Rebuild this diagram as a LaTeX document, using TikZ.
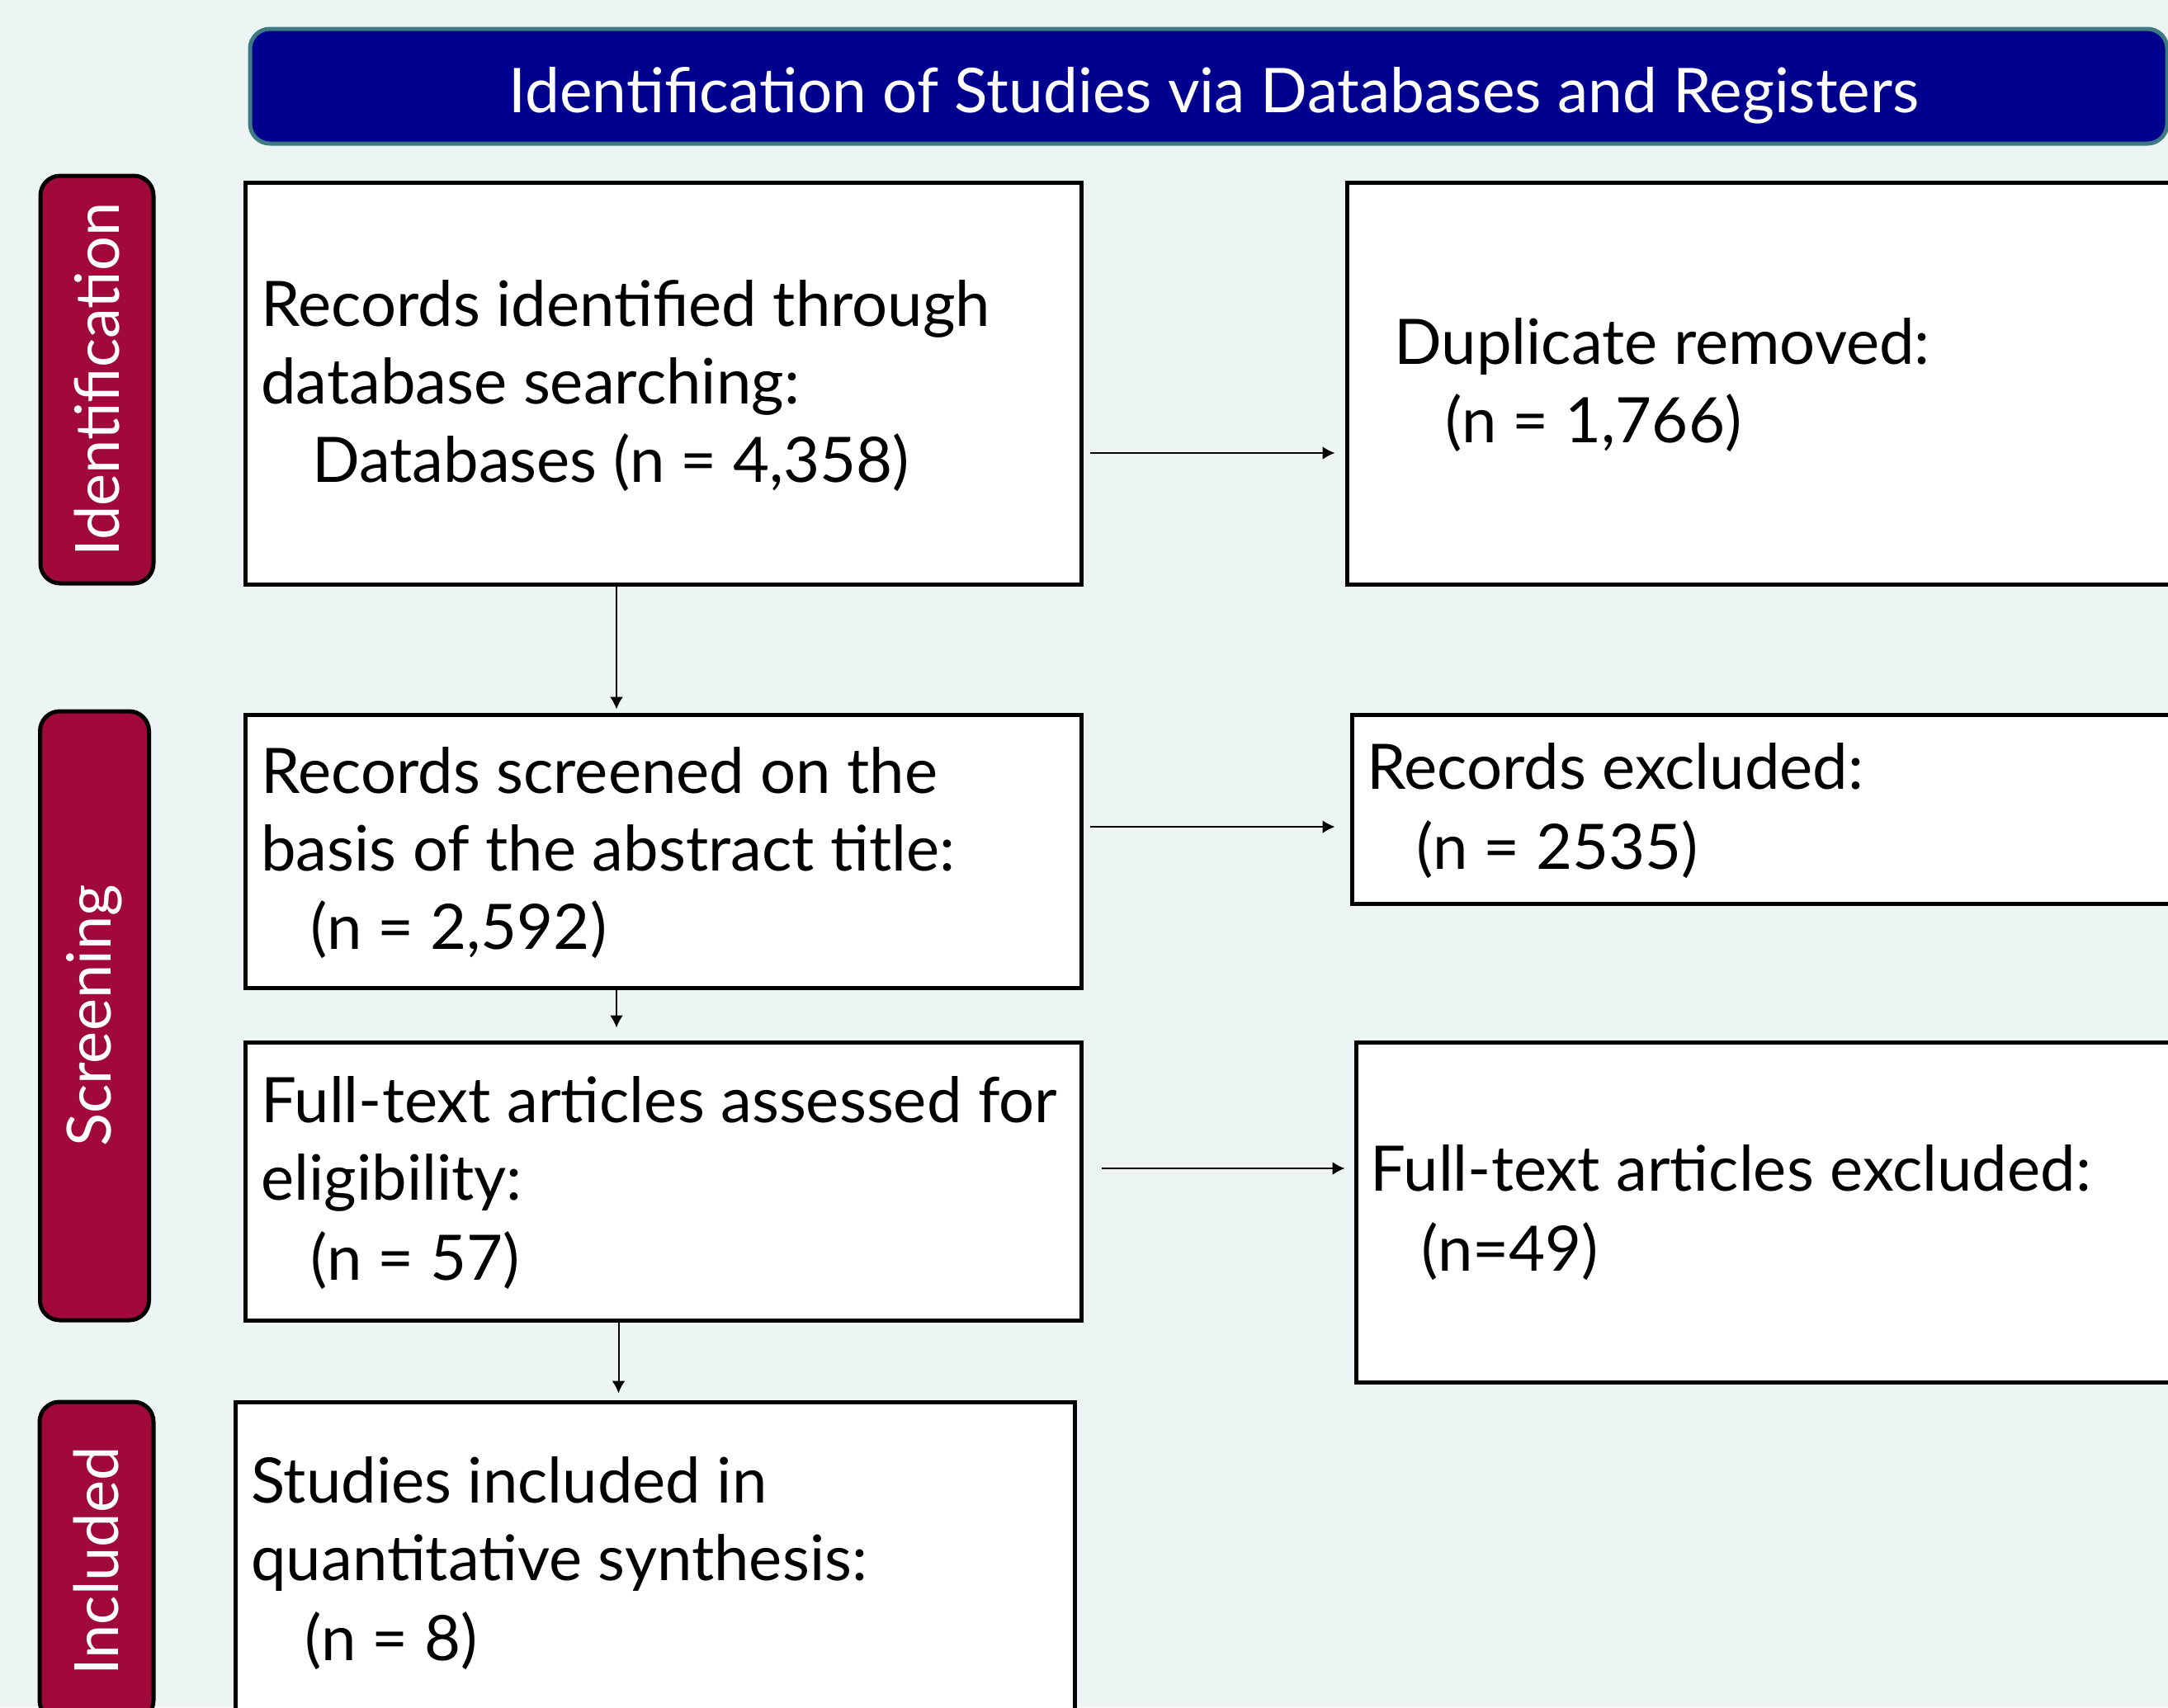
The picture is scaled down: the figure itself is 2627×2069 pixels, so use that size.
\documentclass[tikz,border=0pt]{standalone}
\usepackage{fontspec}
\setmainfont{Lato}
\usetikzlibrary{arrows.meta,calc}
\definecolor{bgc}{HTML}{ECF5F3}
\definecolor{navy}{HTML}{00008E}
\definecolor{tealb}{HTML}{3E7A82}
\definecolor{crim}{HTML}{A0093A}
\begin{document}
\begin{tikzpicture}[x=0.5pt,y=-0.5pt,
  box/.style={draw=black, line width=2.5pt, fill=white, rectangle, inner sep=0pt},
  lab/.style={draw=black, line width=2.5pt, fill=crim, rectangle, rounded corners=12pt, inner sep=0pt},
  labtxt/.style={text=white, rotate=90, inner sep=0pt, font=\fontsize{37}{44}\selectfont},
  txt/.style={font=\fontsize{38}{47.5}\selectfont, inner sep=0pt, anchor=base west, xshift=-2pt},
  arr/.style={-{Latex[length=7.5pt,width=8pt]}, line width=1pt}]
\useasboundingbox (0,0) rectangle (2627,2069);
\clip (0,0) rectangle (2627,2069);
\fill[bgc] (0,0) rectangle (2627,2069);

% header
\node[draw=tealb, line width=2.5pt, fill=navy, rounded corners=12pt, inner sep=0pt,
  minimum width=1161.5pt, minimum height=69.5pt] (head) at (1464.5,104.5) {};
\node[text=white, inner sep=0pt, anchor=base, font=\fontsize{37.4}{45}\selectfont] (headt) at (1471,136)
  {Identification of Studies via Databases and Registers};

% side labels
\node[lab, minimum width=68.5pt, minimum height=247pt] (lab1) at (117.5,460) {};
\node[labtxt] (lab1t) at (lab1.center) {Identification};
\node[lab, minimum width=66pt, minimum height=369pt] (lab2) at (114.5,1231) {};
\node[labtxt] (lab2t) at (lab2.center) {Screening};
\node[lab, minimum width=69pt, minimum height=193pt] (lab3) at (117,1892) {};
\node[labtxt] (lab3t) at (lab3.center) {Included};

% boxes
\node[box, minimum width=506.5pt, minimum height=243.5pt] (b1) at (803.5,464.5) {};
\node[box, minimum width=534pt, minimum height=243.5pt] (b2) at (2166,464.5) {};
\node[box, minimum width=506.5pt, minimum height=165.5pt] (b3) at (803.5,1031.5) {};
\node[box, minimum width=531pt, minimum height=114.5pt] (b6) at (2169,980.5) {};
\node[box, minimum width=506.5pt, minimum height=168.5pt] (b4) at (803.5,1431.5) {};
\node[box, minimum width=528.5pt, minimum height=206pt] (b7) at (2171.5,1469) {};
\node[box, minimum width=508.5pt, minimum height=225.5pt] (b5) at (794,1924.5) {};

% texts
\node[txt] (t1a) at (320,395) {Records identified through};
\node[txt] (t1b) at (320,489) {database searching:};
\node[txt] (t1c) at (382,584) {Databases (n = 4,358)};
\node[txt] (t2a) at (1693,441) {Duplicate removed:};
\node[txt] (t2b) at (1755,536) {(n = 1,766)};
\node[txt] (t3a) at (320,961) {Records screened on the};
\node[txt] (t3b) at (320,1055) {basis of the abstract title:};
\node[txt] (t3c) at (380,1150) {(n = 2,592)};
\node[txt] (t4a) at (320,1360) {Full-text articles assessed for};
\node[txt] (t4b) at (320,1454) {eligibility:};
\node[txt] (t4c) at (380,1551) {(n = 57)};
\node[txt] (t5a) at (308,1821) {Studies included in};
\node[txt] (t5b) at (308,1915) {quantitative synthesis:};
\node[txt] (t5c) at (373,2012) {(n = 8)};
\node[txt] (t6a) at (1660,956) {Records excluded:};
\node[txt] (t6b) at (1720,1053) {(n = 2535)};
\node[txt] (t7a) at (1664,1443) {Full-text articles excluded:};
\node[txt] (t7b) at (1726,1540) {(n=49)};

% connectors
\draw[arr, shorten <=4pt, shorten >=6pt] ([yshift=-42.25pt]b1.east) -- ([yshift=-42.25pt]b1.east -| b2.west);
\draw[arr, shorten >=2pt] ([xshift=-28.25pt]b1.south) -- ([xshift=-28.25pt]b1.south |- b3.north);
\draw[arr, shorten <=4pt, shorten >=9pt] ([yshift=14.75pt]b3.east) -- ([yshift=14.75pt]b3.east -| b6.west);
\draw[arr, shorten >=7.5pt] ([xshift=-28.25pt]b3.south) -- ([xshift=-28.25pt]b3.south |- b4.north);
\draw[arr, shorten <=11pt, shorten >=5.5pt] ([yshift=7.75pt]b4.east) -- ([yshift=7.75pt]b4.east -| b7.west);
\draw[arr, shorten >=4pt] ([xshift=-27pt]b4.south) -- ([xshift=-27pt]b4.south |- b5.north);
\end{tikzpicture}
\end{document}
